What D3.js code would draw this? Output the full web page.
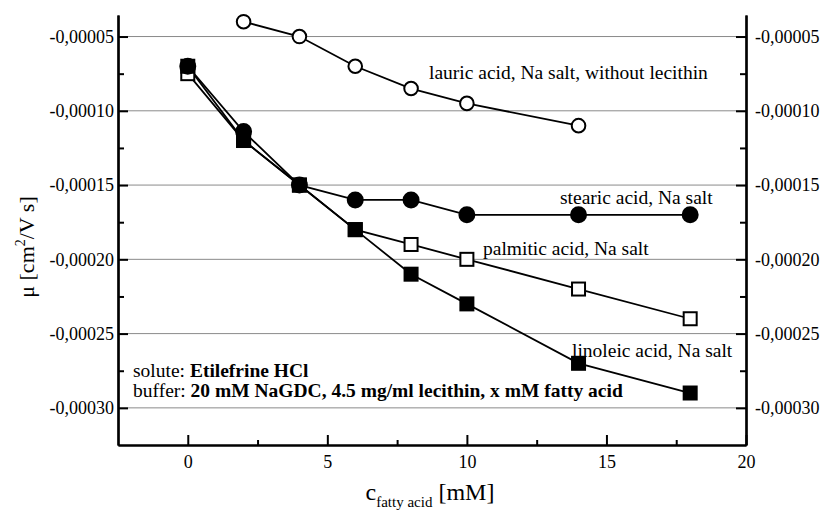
<!DOCTYPE html>
<html>
<head>
<meta charset="utf-8">
<script src="https://cdn.jsdelivr.net/npm/d3@7"></script>
<style>
  body { margin: 0; background: #fff; }
  svg { display: block; font-family: "Liberation Serif", "Times New Roman", serif; }
  .axis path, .axis line { stroke: #000; }
  .axis text { font-family: "Liberation Serif", serif; font-size: 18px; fill: #000; }
</style>
</head>
<body>
<svg id="chart"></svg>
<script>
// concentrations [mM]
const concLauric = [2, 4, 6, 8, 10, 14];
const concAll = [0, 2, 4, 6, 8, 10, 14, 18];

// mobility values [cm2/V s]
const lauric   = [-0.00004, -0.00005, -0.00007, -0.000085, -0.000095, -0.00011];
const stearic  = [-0.00007, -0.000114, -0.00015, -0.00016, -0.00016, -0.00017, -0.00017, -0.00017];
const palmitic = [-0.000075, -0.00012, -0.00015, -0.00018, -0.00019, -0.0002, -0.00022, -0.00024];
const linoleic = [-0.00007, -0.00012, -0.00015, -0.00018, -0.00021, -0.00023, -0.00027, -0.00029];

// tick labels
const xTicks = [0, 5, 10, 15, 20];
const yTicks = [-0.00005, -0.0001, -0.00015, -0.0002, -0.00025, -0.0003];
const yMinor = [-0.000075, -0.000125, -0.000175, -0.000225, -0.000275];
const xMinor = [2.5, 7.5, 12.5, 17.5];

const config = {
  containerWidth: 823,
  containerHeight: 512,
  margin: {top: 15, right: 77, bottom: 67, left: 118}
};

let width = config.containerWidth - config.margin.left - config.margin.right;
let height = config.containerHeight - config.margin.top - config.margin.bottom;

const svg = d3.select('#chart')
    .attr('width', config.containerWidth)
    .attr('height', config.containerHeight);

const chart = svg.append('g')
    .attr('transform', `translate(${config.margin.left},${config.margin.top})`);

const xScale = d3.scaleLinear().domain([-2.5, 20]).range([0, width]);
const yScale = d3.scaleLinear().domain([-0.000325, -0.0000355]).range([height, 0]);

// decimal comma, plain hyphen as minus sign
const fmt = d => d3.format('.5f')(d).replace('.', ',').replace('−', '-');

// gridlines
chart.append('g')
  .selectAll('line')
  .data(yTicks)
  .join('line')
    .attr('x1', 0)
    .attr('x2', width)
    .attr('y1', d => yScale(d))
    .attr('y2', d => yScale(d))
    .attr('stroke', '#8a8a8a')
    .attr('stroke-width', 1);

// axes: ticks pointing inwards
const xAxis = d3.axisBottom(xScale).tickValues(xTicks).tickSizeInner(-10).tickSizeOuter(0).tickPadding(10);
const xAxisMinor = d3.axisBottom(xScale).tickValues(xMinor).tickSizeInner(-5).tickSizeOuter(0).tickFormat('');
const yAxisL = d3.axisLeft(yScale).tickValues(yTicks).tickSizeInner(-10).tickSizeOuter(0).tickPadding(4).tickFormat(fmt);
const yAxisLMinor = d3.axisLeft(yScale).tickValues(yMinor).tickSizeInner(-6).tickSizeOuter(0).tickFormat('');
const yAxisR = d3.axisRight(yScale).tickValues(yTicks).tickSizeInner(-10).tickSizeOuter(0).tickPadding(9).tickFormat(fmt);
const yAxisRMinor = d3.axisRight(yScale).tickValues(yMinor).tickSizeInner(-6).tickSizeOuter(0).tickFormat('');

function styleAxis(g) {
  g.select('.domain').attr('stroke-width', 2.2);
  g.selectAll('.tick line').attr('stroke-width', 2);
}

chart.append('g').attr('class', 'axis').attr('transform', `translate(0,${height})`).call(xAxis).call(styleAxis);
chart.append('g').attr('class', 'axis').attr('transform', `translate(0,${height})`).call(xAxisMinor).call(styleAxis);
chart.append('g').attr('class', 'axis').call(yAxisL).call(styleAxis);
chart.append('g').attr('class', 'axis').call(yAxisLMinor).call(styleAxis);
chart.append('g').attr('class', 'axis').attr('transform', `translate(${width},0)`).call(yAxisR).call(styleAxis);
chart.append('g').attr('class', 'axis').attr('transform', `translate(${width},0)`).call(yAxisRMinor).call(styleAxis);

chart.selectAll('.axis text').attr('font-size', 18);

// series (drawing order matters where markers overlap)
const series = [
  {name: 'lauric', x: concLauric, y: lauric, shape: 'circle', fill: '#fff'},
  {name: 'palmitic', x: concAll, y: palmitic, shape: 'square', fill: '#fff'},
  {name: 'linoleic', x: concAll, y: linoleic, shape: 'square', fill: '#000'},
  {name: 'stearic', x: concAll, y: stearic, shape: 'circle', fill: '#000'}
];

const line = d3.line()
    .x(d => xScale(d[0]))
    .y(d => yScale(d[1]));

series.forEach(s => {
  const pts = s.x.map((x, i) => [x, s.y[i]]);
  chart.append('path')
      .datum(pts)
      .attr('fill', 'none')
      .attr('stroke', '#000')
      .attr('stroke-width', 1.8)
      .attr('d', line);
});

series.forEach(s => {
  const pts = s.x.map((x, i) => [x, s.y[i]]);
  if (s.shape === 'circle') {
    chart.append('g').selectAll('circle')
      .data(pts)
      .join('circle')
        .attr('cx', d => xScale(d[0]))
        .attr('cy', d => yScale(d[1]))
        .attr('r', s.fill === '#000' ? 7.5 : 6.8)
        .attr('fill', s.fill)
        .attr('stroke', '#000')
        .attr('stroke-width', 2);
  } else {
    chart.append('g').selectAll('rect')
      .data(pts)
      .join('rect')
        .attr('x', d => xScale(d[0]) - 6.5)
        .attr('y', d => yScale(d[1]) - 6.5)
        .attr('width', 13)
        .attr('height', 13)
        .attr('fill', s.fill)
        .attr('stroke', '#000')
        .attr('stroke-width', 2);
  }
});

// series annotations
const notes = [
  {text: 'lauric acid, Na salt, without lecithin', x: 429, y: 79},
  {text: 'stearic acid, Na salt', x: 560, y: 204},
  {text: 'palmitic acid, Na salt', x: 483, y: 255},
  {text: 'linoleic acid, Na salt', x: 572, y: 357}
];

svg.append('g').selectAll('text')
  .data(notes)
  .join('text')
    .attr('x', d => d.x)
    .attr('y', d => d.y)
    .attr('font-size', 19.5)
    .text(d => d.text);

// conditions text
const t1 = svg.append('text').attr('x', 133).attr('y', 377).attr('font-size', 19.5);
t1.append('tspan').text('solute: ');
t1.append('tspan').attr('font-weight', 'bold').text('Etilefrine HCl');

const t2 = svg.append('text').attr('x', 133).attr('y', 397).attr('font-size', 19.5);
t2.append('tspan').text('buffer: ');
t2.append('tspan').attr('font-weight', 'bold').text('20 mM NaGDC, 4.5 mg/ml lecithin, x mM fatty acid');

// axis titles
const yLabel = svg.append('text')
    .attr('transform', 'translate(34,247) rotate(-90)')
    .attr('text-anchor', 'middle')
    .attr('font-size', 22);
yLabel.append('tspan').text('μ [cm');
yLabel.append('tspan').attr('font-size', 14).attr('dy', -9).text('2');
yLabel.append('tspan').attr('dy', 9).text('/V s]');

const xLabel = svg.append('text')
    .attr('x', 430)
    .attr('y', 500)
    .attr('text-anchor', 'middle')
    .attr('font-size', 24);
xLabel.append('tspan').text('c');
xLabel.append('tspan').attr('font-size', 15).attr('dy', 7).text('fatty acid');
xLabel.append('tspan').attr('dy', -7).text(' [mM]');
</script>
</body>
</html>
